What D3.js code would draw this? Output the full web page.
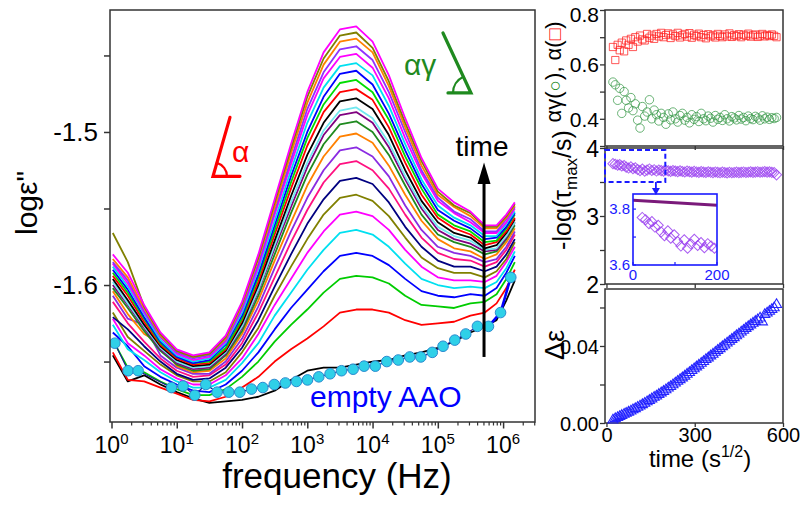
<!DOCTYPE html>
<html>
<head>
<meta charset="utf-8">
<script src="https://cdn.jsdelivr.net/npm/d3@7"></script>
<style>
  body { margin: 0; background: #fff; }
  svg { display: block; }
  text { font-family: "Liberation Sans", Arial, Helvetica, sans-serif; }
</style>
</head>
<body>
<svg id="chart" width="800" height="505"></svg>
<script>
// ---------- dielectric loss spectra (log10 f, log eps'') ----------
const logFreq = [0.02, 0.25, 0.5, 0.75, 1.0, 1.25, 1.5, 1.75, 2.0, 2.25, 2.5, 2.75, 3.0, 3.25,
                 3.5, 3.75, 4.0, 4.25, 4.5, 4.75, 5.0, 5.25, 5.5, 5.72, 5.9, 6.05, 6.18];

// one row per spectrum, earliest (bottom) to latest (top)
const spectra = [
  [-1.646,-1.663,-1.659,-1.665,-1.670,-1.674,-1.677,-1.676,-1.675,-1.673,-1.669,-1.662,-1.656,-1.654,-1.654,-1.652,-1.650,-1.649,-1.646,-1.644,-1.641,-1.637,-1.631,-1.627,-1.623,-1.610,-1.597],
  [-1.644,-1.662,-1.663,-1.667,-1.671,-1.675,-1.676,-1.673,-1.667,-1.660,-1.650,-1.642,-1.635,-1.627,-1.618,-1.616,-1.616,-1.618,-1.623,-1.626,-1.625,-1.624,-1.620,-1.618,-1.612,-1.602,-1.590],
  [-1.636,-1.654,-1.657,-1.663,-1.668,-1.672,-1.672,-1.668,-1.660,-1.650,-1.637,-1.626,-1.616,-1.605,-1.596,-1.594,-1.595,-1.599,-1.607,-1.613,-1.614,-1.615,-1.612,-1.611,-1.606,-1.596,-1.585],
  [-1.631,-1.640,-1.653,-1.660,-1.665,-1.669,-1.670,-1.665,-1.656,-1.644,-1.629,-1.615,-1.603,-1.591,-1.581,-1.579,-1.581,-1.587,-1.596,-1.604,-1.607,-1.608,-1.606,-1.607,-1.602,-1.592,-1.581],
  [-1.626,-1.642,-1.649,-1.657,-1.663,-1.667,-1.667,-1.662,-1.651,-1.638,-1.620,-1.605,-1.590,-1.577,-1.566,-1.564,-1.567,-1.575,-1.586,-1.596,-1.600,-1.602,-1.601,-1.602,-1.598,-1.589,-1.578],
  [-1.622,-1.638,-1.646,-1.655,-1.661,-1.665,-1.665,-1.659,-1.648,-1.632,-1.613,-1.596,-1.579,-1.565,-1.554,-1.552,-1.555,-1.564,-1.577,-1.588,-1.595,-1.597,-1.597,-1.598,-1.594,-1.585,-1.575],
  [-1.618,-1.634,-1.643,-1.652,-1.659,-1.663,-1.663,-1.657,-1.644,-1.628,-1.607,-1.588,-1.570,-1.554,-1.543,-1.541,-1.545,-1.555,-1.569,-1.582,-1.589,-1.592,-1.592,-1.595,-1.591,-1.583,-1.572],
  [-1.621,-1.629,-1.640,-1.650,-1.658,-1.662,-1.661,-1.654,-1.641,-1.623,-1.601,-1.580,-1.560,-1.544,-1.532,-1.530,-1.534,-1.546,-1.562,-1.575,-1.584,-1.588,-1.588,-1.591,-1.588,-1.580,-1.570],
  [-1.611,-1.625,-1.637,-1.648,-1.656,-1.660,-1.659,-1.652,-1.638,-1.618,-1.595,-1.572,-1.551,-1.533,-1.521,-1.519,-1.525,-1.537,-1.554,-1.569,-1.579,-1.583,-1.584,-1.588,-1.585,-1.577,-1.567],
  [-1.607,-1.622,-1.626,-1.646,-1.654,-1.658,-1.658,-1.650,-1.635,-1.614,-1.589,-1.565,-1.543,-1.525,-1.512,-1.510,-1.516,-1.529,-1.548,-1.564,-1.575,-1.579,-1.581,-1.585,-1.583,-1.575,-1.565],
  [-1.604,-1.619,-1.632,-1.638,-1.653,-1.657,-1.656,-1.648,-1.632,-1.610,-1.584,-1.559,-1.535,-1.516,-1.503,-1.501,-1.507,-1.522,-1.541,-1.558,-1.570,-1.576,-1.578,-1.583,-1.580,-1.572,-1.563],
  [-1.602,-1.615,-1.630,-1.643,-1.652,-1.656,-1.655,-1.646,-1.630,-1.607,-1.580,-1.553,-1.528,-1.508,-1.495,-1.493,-1.500,-1.515,-1.535,-1.554,-1.567,-1.572,-1.575,-1.580,-1.578,-1.570,-1.561],
  [-1.600,-1.613,-1.628,-1.642,-1.651,-1.655,-1.654,-1.645,-1.628,-1.604,-1.576,-1.549,-1.523,-1.502,-1.489,-1.487,-1.494,-1.510,-1.531,-1.550,-1.564,-1.570,-1.573,-1.578,-1.577,-1.569,-1.559],
  [-1.598,-1.612,-1.627,-1.641,-1.650,-1.654,-1.653,-1.644,-1.627,-1.603,-1.574,-1.546,-1.520,-1.499,-1.486,-1.484,-1.491,-1.507,-1.529,-1.548,-1.562,-1.568,-1.571,-1.577,-1.576,-1.568,-1.559],
  [-1.596,-1.610,-1.626,-1.640,-1.649,-1.653,-1.652,-1.643,-1.625,-1.600,-1.571,-1.542,-1.515,-1.494,-1.480,-1.478,-1.485,-1.502,-1.525,-1.545,-1.559,-1.566,-1.569,-1.576,-1.574,-1.566,-1.557],
  [-1.594,-1.607,-1.624,-1.639,-1.648,-1.652,-1.651,-1.642,-1.623,-1.598,-1.567,-1.537,-1.509,-1.487,-1.474,-1.472,-1.479,-1.497,-1.520,-1.541,-1.556,-1.563,-1.567,-1.574,-1.572,-1.565,-1.556],
  [-1.592,-1.605,-1.622,-1.638,-1.647,-1.651,-1.650,-1.641,-1.622,-1.595,-1.564,-1.533,-1.504,-1.482,-1.468,-1.466,-1.474,-1.492,-1.516,-1.537,-1.554,-1.561,-1.565,-1.572,-1.571,-1.563,-1.554],
  [-1.590,-1.603,-1.621,-1.637,-1.647,-1.651,-1.649,-1.639,-1.620,-1.593,-1.561,-1.529,-1.500,-1.477,-1.462,-1.460,-1.469,-1.488,-1.512,-1.534,-1.551,-1.558,-1.563,-1.570,-1.569,-1.562,-1.553],
  [-1.588,-1.601,-1.619,-1.636,-1.646,-1.650,-1.648,-1.638,-1.618,-1.590,-1.558,-1.525,-1.494,-1.471,-1.457,-1.455,-1.463,-1.483,-1.508,-1.531,-1.548,-1.556,-1.561,-1.568,-1.568,-1.560,-1.552],
  [-1.586,-1.599,-1.618,-1.634,-1.645,-1.649,-1.647,-1.637,-1.616,-1.588,-1.554,-1.521,-1.489,-1.465,-1.451,-1.449,-1.458,-1.478,-1.504,-1.527,-1.545,-1.553,-1.559,-1.566,-1.566,-1.559,-1.550],
  [-1.585,-1.597,-1.617,-1.634,-1.644,-1.648,-1.646,-1.636,-1.615,-1.586,-1.552,-1.518,-1.485,-1.461,-1.446,-1.444,-1.453,-1.474,-1.500,-1.525,-1.543,-1.552,-1.557,-1.565,-1.565,-1.557,-1.549],
  [-1.583,-1.595,-1.615,-1.633,-1.643,-1.647,-1.645,-1.635,-1.613,-1.583,-1.549,-1.514,-1.481,-1.456,-1.441,-1.439,-1.448,-1.470,-1.497,-1.522,-1.541,-1.549,-1.555,-1.563,-1.563,-1.556,-1.548],
  [-1.566,-1.585,-1.614,-1.632,-1.643,-1.647,-1.645,-1.634,-1.612,-1.582,-1.546,-1.511,-1.477,-1.452,-1.437,-1.435,-1.445,-1.467,-1.494,-1.519,-1.539,-1.548,-1.553,-1.562,-1.562,-1.555,-1.547],
  [-1.580,-1.592,-1.613,-1.631,-1.642,-1.646,-1.644,-1.633,-1.611,-1.580,-1.544,-1.508,-1.474,-1.448,-1.433,-1.431,-1.441,-1.463,-1.491,-1.517,-1.537,-1.546,-1.552,-1.561,-1.561,-1.554,-1.546]
];
const spectrumColors = ["#000000","#ff0000","#00cc00","#0000ff","#00e0f0","#ff00ff","#808000","#000080",
  "#ff1080","#8a2be2","#ff8000","#1f8a1f","#800080","#70e8f0","#000000","#ff0000","#00dd00","#0000ff",
  "#00e0f0","#ff00ff","#9030ff","#ff8000","#808000","#ff00ff"];

// empty AAO reference spectrum
const aaoLogFreq = [0.051,0.254,0.408,0.919,1.097,1.276,1.445,1.618,1.797,1.966,2.145,2.318,2.494,2.664,2.834,
  3.003,3.176,3.349,3.524,3.702,3.870,4.042,4.218,4.394,4.570,4.739,4.915,5.080,5.260,5.428,5.607,5.776,5.961,6.118];
const aaoLogEps = [-1.638,-1.656,-1.656,-1.667,-1.666,-1.672,-1.665,-1.670,-1.670,-1.670,-1.668,-1.667,-1.665,-1.664,-1.663,
  -1.662,-1.660,-1.658,-1.656,-1.655,-1.653,-1.653,-1.650,-1.649,-1.647,-1.647,-1.644,-1.640,-1.636,-1.632,-1.627,-1.627,-1.618,-1.595];

const xMajorTicks = [0, 1, 2, 3, 4, 5, 6];           // exponents
const yMainTicks = [-1.65, -1.6, -1.55, -1.5, -1.45];
const yMainLabels = ["", "-1.6", "", "-1.5", ""];

// ---------- fit parameters vs time (s^1/2) ----------
const timeSqrt = [22, 30, 38, 45, 52, 60, 67, 75, 83, 90,
  98, 106, 114, 122, 130, 138, 146, 154, 162, 170,
  178, 186, 194, 202, 210, 218, 226, 234, 242, 250,
  258, 266, 274, 282, 290, 298, 306, 314, 322, 330,
  338, 346, 354, 362, 370, 378, 386, 394, 402, 410,
  418, 426, 434, 442, 450, 458, 466, 474, 482, 490,
  498, 506, 514, 522, 530, 538, 546, 554, 562, 570,
  578];
const alphaShape = [0.664, 0.616, 0.672, 0.652, 0.680, 0.648, 0.688, 0.672, 0.694, 0.664,
  0.700, 0.684, 0.706, 0.692, 0.688, 0.712, 0.698, 0.706, 0.694, 0.712,
  0.703, 0.716, 0.700, 0.708, 0.714, 0.697, 0.710, 0.704, 0.716, 0.699,
  0.707, 0.712, 0.702, 0.715, 0.698, 0.709, 0.704, 0.713, 0.700, 0.708,
  0.696, 0.711, 0.703, 0.707, 0.699, 0.712, 0.705, 0.700, 0.710, 0.703,
  0.714, 0.701, 0.708, 0.704, 0.711, 0.700, 0.709, 0.705, 0.713, 0.702,
  0.707, 0.710, 0.701, 0.706, 0.712, 0.703, 0.708, 0.704, 0.710, 0.705,
  0.700];
const alphaGamma = [0.535, 0.525, 0.468, 0.512, 0.420, 0.500, 0.468, 0.440, 0.478, 0.430,
  0.455, 0.395, 0.366, 0.445, 0.410, 0.425, 0.470, 0.400, 0.432, 0.415,
  0.392, 0.420, 0.405, 0.380, 0.418, 0.396, 0.425, 0.400, 0.388, 0.412,
  0.420, 0.395, 0.405, 0.385, 0.415, 0.398, 0.408, 0.390, 0.420, 0.400,
  0.393, 0.410, 0.402, 0.388, 0.412, 0.398, 0.405, 0.394, 0.415, 0.400,
  0.392, 0.408, 0.403, 0.396, 0.412, 0.399, 0.405, 0.393, 0.410, 0.401,
  0.397, 0.409, 0.403, 0.395, 0.411, 0.400, 0.406, 0.398, 0.404, 0.401,
  0.405];
const negLogTau = [3.770, 3.762, 3.748, 3.755, 3.736, 3.742, 3.718, 3.705, 3.722, 3.696,
  3.708, 3.684, 3.668, 3.690, 3.660, 3.675, 3.692, 3.670, 3.680, 3.662,
  3.676, 3.668, 3.660, 3.672, 3.664, 3.656, 3.668, 3.660, 3.652, 3.664,
  3.655, 3.648, 3.660, 3.652, 3.645, 3.656, 3.648, 3.642, 3.652, 3.645,
  3.640, 3.650, 3.643, 3.638, 3.648, 3.641, 3.636, 3.645, 3.639, 3.634,
  3.643, 3.637, 3.640, 3.645, 3.638, 3.642, 3.647, 3.640, 3.644, 3.649,
  3.642, 3.646, 3.651, 3.644, 3.648, 3.652, 3.645, 3.649, 3.642, 3.638,
  3.605];
const deltaEps = [0.0015, 0.0022, 0.0028, 0.0033, 0.0039, 0.0045, 0.0050, 0.0056, 0.0062, 0.0068,
  0.0074, 0.0081, 0.0088, 0.0095, 0.0102, 0.0110, 0.0117, 0.0125, 0.0133, 0.0140,
  0.0148, 0.0156, 0.0164, 0.0172, 0.0181, 0.0189, 0.0198, 0.0207, 0.0216, 0.0225,
  0.0234, 0.0243, 0.0253, 0.0262, 0.0272, 0.0281, 0.0291, 0.0300, 0.0310, 0.0319,
  0.0329, 0.0338, 0.0348, 0.0357, 0.0367, 0.0377, 0.0386, 0.0396, 0.0405, 0.0415,
  0.0424, 0.0434, 0.0443, 0.0453, 0.0462, 0.0472, 0.0481, 0.0491, 0.0500, 0.0509,
  0.0518, 0.0527, 0.0536, 0.0545, 0.0525, 0.0563, 0.0571, 0.0580, 0.0589, 0.0598,
  0.0615];
// reference line shown in the zoomed inset (time, -log tau)
const insetRefLine = [[0, 3.832], [200, 3.814]];

// ---------- drawing ----------
const svg = d3.select("#chart");
const AX = "#333333";

// main panel scales
const x = d3.scaleLog().domain([Math.pow(10, -0.023), Math.pow(10, 6.489)]).range([110, 535]);
const y = d3.scaleLinear().domain([-1.6895, -1.4203]).range([422, 10]);
const fx = lf => x(Math.pow(10, lf));

svg.append("clipPath").attr("id", "mainClip")
  .append("rect").attr("x", 110).attr("y", 10).attr("width", 425).attr("height", 412);

const plot = svg.append("g").attr("clip-path", "url(#mainClip)");
const line = d3.line().x(d => fx(d[0])).y(d => y(d[1]));

spectra.forEach((vals, i) => {
  plot.append("path")
    .datum(logFreq.map((f, j) => [f, vals[j]]))
    .attr("d", line)
    .attr("fill", "none")
    .attr("stroke", spectrumColors[i])
    .attr("stroke-width", 1.8)
    .attr("stroke-linejoin", "round");
});

// empty AAO
const aao = aaoLogFreq.map((f, j) => [f, aaoLogEps[j]]);
plot.append("path").datum(aao).attr("d", line)
  .attr("fill", "none").attr("stroke", "#1a1a90").attr("stroke-width", 1.2);
plot.append("path").datum(aao.slice(-3)).attr("d", line)
  .attr("fill", "none").attr("stroke", "#0000ff").attr("stroke-width", 2.6);
plot.selectAll("circle.aao").data(aao).enter().append("circle")
  .attr("cx", d => fx(d[0])).attr("cy", d => y(d[1])).attr("r", 5.3)
  .attr("fill", "#2fd0e8").attr("stroke", "#2a8ad0").attr("stroke-width", 1);

// time arrow
const arrX = fx(5.708);
svg.append("line").attr("x1", arrX).attr("x2", arrX).attr("y1", y(-1.647)).attr("y2", y(-1.534))
  .attr("stroke", "#000").attr("stroke-width", 3);
svg.append("path")
  .attr("d", `M${arrX - 6.5},${y(-1.534)} L${arrX + 6.5},${y(-1.534)} L${arrX},${y(-1.520)} Z`)
  .attr("fill", "#000");
svg.append("text").attr("x", arrX - 2).attr("y", y(-1.516)).attr("text-anchor", "middle")
  .attr("font-size", 28).attr("fill", "#000").text("time");

// alpha slope mark (red)
{
  const vx = fx(1.555), vy = y(-1.529);
  const g = svg.append("g").attr("stroke", "#ff0000").attr("stroke-width", 3.2).attr("fill", "none")
    .attr("stroke-linecap", "round");
  g.append("path").attr("d", `M${vx + 17},${vy - 59} L${vx},${vy} L${vx + 27},${vy}`);
  const r = 14, a = Math.atan2(-59, 17);
  g.append("path").attr("d", `M${vx + r},${vy} A${r},${r} 0 0 0 ${vx + r * Math.cos(a)},${vy + r * Math.sin(a)}`)
    .attr("stroke-width", 2.2);
  svg.append("text").attr("x", vx + 19).attr("y", vy - 14).attr("font-size", 30)
    .attr("fill", "#ff0000").text("α");
}
// alpha*gamma slope mark (green)
{
  const vx = fx(5.508), vy = y(-1.4745);
  const g = svg.append("g").attr("stroke", "#1f8a1f").attr("stroke-width", 3.2).attr("fill", "none")
    .attr("stroke-linecap", "round");
  g.append("path").attr("d", `M${vx - 28},${vy - 60} L${vx},${vy} L${vx - 23},${vy}`);
  const r = 18, a = Math.atan2(-60, -28);
  g.append("path").attr("d", `M${vx - r},${vy} A${r},${r} 0 0 1 ${vx + r * Math.cos(a)},${vy + r * Math.sin(a)}`)
    .attr("stroke-width", 2.2);
  svg.append("text").attr("x", vx - 67).attr("y", vy - 18).attr("font-size", 30)
    .attr("fill", "#1f8a1f").text("αγ");
}

svg.append("text").attr("x", fx(3.041)).attr("y", y(-1.680)).attr("font-size", 30)
  .attr("fill", "#0000ff").text("empty AAO");

// main frame and axes
svg.append("rect").attr("x", 110).attr("y", 10).attr("width", 425).attr("height", 412)
  .attr("fill", "none").attr("stroke", AX).attr("stroke-width", 1.5);

const yAxis = svg.append("g").attr("transform", "translate(110,0)")
  .call(d3.axisLeft(y).tickValues(yMainTicks).tickSize(6).tickSizeOuter(0)
    .tickFormat((d, i) => yMainLabels[i]));
yAxis.select(".domain").remove();
yAxis.selectAll(".tick line").attr("stroke", AX).attr("stroke-width", 1.5);
yAxis.selectAll(".tick text").attr("font-size", 26).attr("fill", "#000")
  .attr("font-family", "Liberation Sans, Arial, sans-serif").attr("x", -12);

const minorF = [];
for (let e = 0; e <= 6; e++) for (let m = 2; m <= 9; m++) {
  const v = m * Math.pow(10, e);
  if (v <= x.domain()[1]) minorF.push(v);
}
const xMinor = svg.append("g").attr("transform", "translate(0,422)")
  .call(d3.axisBottom(x).tickValues(minorF).tickSize(3.5).tickSizeOuter(0).tickFormat(""));
xMinor.select(".domain").remove();
xMinor.selectAll(".tick line").attr("stroke", AX).attr("stroke-width", 1.2);
const xMajor = svg.append("g").attr("transform", "translate(0,422)")
  .call(d3.axisBottom(x).tickValues(xMajorTicks.map(e => Math.pow(10, e))).tickSize(6.5)
    .tickSizeOuter(0).tickFormat(""));
xMajor.select(".domain").remove();
xMajor.selectAll(".tick line").attr("stroke", AX).attr("stroke-width", 1.5);
xMajorTicks.forEach(e => {
  const t = svg.append("text").attr("x", fx(e)).attr("y", 453).attr("text-anchor", "middle")
    .attr("font-size", 23).attr("fill", "#000");
  t.append("tspan").text("10");
  t.append("tspan").attr("dy", -9).attr("font-size", 15).text(e);
});

svg.append("text").attr("x", 337).attr("y", 488).attr("text-anchor", "middle")
  .attr("font-size", 35).attr("fill", "#000").text("frequency (Hz)");
svg.append("text").attr("transform", "translate(37,203) rotate(-90)").attr("text-anchor", "middle")
  .attr("font-size", 30).attr("fill", "#000").text("logε\"");

// ---------- right-hand panels ----------
const px = d3.scaleLinear().domain([-5, 600]).range([605, 783]);
const p1y = d3.scaleLinear().domain([0.3, 0.8]).range([146, 10]);
const p2y = d3.scaleLinear().domain([2, 4]).range([284, 148]);
const p3y = d3.scaleLinear().domain([0, 0.0696]).range([423, 289]);

function panelFrame(ys, ticks, labels, fmt, fontSize, showX) {
  const [y0, y1] = ys.range();
  svg.append("rect").attr("x", 605).attr("y", y1).attr("width", 178).attr("height", y0 - y1)
    .attr("fill", "none").attr("stroke", AX).attr("stroke-width", 1.5);
  const ga = svg.append("g").attr("transform", "translate(605,0)")
    .call(d3.axisLeft(ys).tickValues(ticks).tickSize(5).tickSizeOuter(0)
      .tickFormat(d => labels.some(l => Math.abs(l - d) < 1e-9) ? fmt(d) : ""));
  ga.select(".domain").remove();
  ga.selectAll(".tick line").attr("stroke", AX).attr("stroke-width", 1.3);
  ga.selectAll(".tick text").attr("font-size", fontSize).attr("dy", "0.36em")
    .attr("fill", "#000").attr("x", -6).attr("font-family", "Liberation Sans, Arial, sans-serif")
    // keep the topmost label inside the canvas
    .attr("y", d => (ys(d) < 14 ? 14 - ys(d) : 0));
  const gb = svg.append("g").attr("transform", `translate(0,${y0})`)
    .call(d3.axisBottom(px).tickValues([0, 300, 600]).tickSize(4).tickSizeOuter(0)
      .tickFormat(showX ? d3.format("d") : ""));
  gb.select(".domain").remove();
  gb.selectAll(".tick line").attr("stroke", AX).attr("stroke-width", 1.3);
  gb.selectAll(".tick text").attr("font-size", 20).attr("fill", "#000").attr("y", 5)
    .attr("font-family", "Liberation Sans, Arial, sans-serif");
}

panelFrame(p1y, [0.3, 0.4, 0.5, 0.6, 0.7, 0.8], [0.4, 0.6, 0.8], d3.format(".1f"), 21, false);
panelFrame(p2y, [2, 2.5, 3, 3.5, 4], [2, 3, 4], d3.format("d"), 23, false);
panelFrame(p3y, [0, 0.02, 0.04, 0.06], [0, 0.04], d3.format(".2f"), 20, true);

const sq = d3.symbol(d3.symbolSquare, 52)();
const circ = d3.symbol(d3.symbolCircle, 56)();
const tri = d3.symbol(d3.symbolTriangle, 44)();

// panel 1: shape parameters
svg.append("g").selectAll("path").data(timeSqrt).enter().append("path")
  .attr("d", circ).attr("transform", (t, i) => `translate(${px(t)},${p1y(alphaGamma[i])})`)
  .attr("fill", "none").attr("stroke", "#3a9a4a").attr("stroke-opacity", 0.75).attr("stroke-width", 1);
svg.append("g").selectAll("path").data(timeSqrt).enter().append("path")
  .attr("d", sq).attr("transform", (t, i) => `translate(${px(t)},${p1y(alphaShape[i])})`)
  .attr("fill", "none").attr("stroke", "#ff2020").attr("stroke-opacity", 0.75).attr("stroke-width", 1);

// panel 2: relaxation time
svg.append("g").selectAll("path").data(timeSqrt).enter().append("path")
  .attr("d", sq).attr("transform", (t, i) => `translate(${px(t)},${p2y(negLogTau[i])}) rotate(45)`)
  .attr("fill", "none").attr("stroke", "#9a40f0").attr("stroke-opacity", 0.8).attr("stroke-width", 1);

// highlight box and arrow to inset
svg.append("rect").attr("x", px(-5)).attr("y", p2y(3.97)).attr("width", px(200) - px(-5))
  .attr("height", p2y(3.50) - p2y(3.97)).attr("fill", "none").attr("stroke", "#1a1aff")
  .attr("stroke-width", 2).attr("stroke-dasharray", "5,3");

// inset
const ix = d3.scaleLinear().domain([0, 200]).range([633, 717]);
const iy = d3.scaleLinear().domain([3.6, 3.854]).range([265, 194]);
svg.append("rect").attr("x", 633).attr("y", 194).attr("width", 84).attr("height", 71)
  .attr("fill", "#fff").attr("stroke", "none");
svg.append("clipPath").attr("id", "insetClip").append("rect")
  .attr("x", 633).attr("y", 194).attr("width", 84).attr("height", 71);
const ins = svg.append("g").attr("clip-path", "url(#insetClip)");
ins.append("path").datum(insetRefLine)
  .attr("d", d3.line().x(d => ix(d[0])).y(d => iy(d[1])))
  .attr("stroke", "#7a1a7a").attr("stroke-width", 3).attr("fill", "none");
ins.selectAll("path.pt").data(timeSqrt.filter(t => t <= 200)).enter().append("path")
  .attr("d", sq).attr("transform", (t, i) => `translate(${ix(t)},${iy(negLogTau[i])}) rotate(45)`)
  .attr("fill", "none").attr("stroke", "#9a40f0").attr("stroke-opacity", 0.85).attr("stroke-width", 1);
svg.append("rect").attr("x", 633).attr("y", 194).attr("width", 84).attr("height", 71)
  .attr("fill", "none").attr("stroke", "#1a1aff").attr("stroke-width", 1.6);
[3.6, 3.7, 3.8].forEach(v => svg.append("line").attr("x1", 633).attr("x2", 636)
  .attr("y1", iy(v)).attr("y2", iy(v)).attr("stroke", "#1a1aff").attr("stroke-width", 1.2));
[0, 100, 200].forEach(v => svg.append("line").attr("x1", ix(v)).attr("x2", ix(v))
  .attr("y1", 265).attr("y2", 262).attr("stroke", "#1a1aff").attr("stroke-width", 1.2));
[[3.8, "3.8"], [3.6, "3.6"]].forEach(([v, s]) => svg.append("text").attr("x", 630).attr("y", iy(v))
  .attr("dy", "0.35em").attr("text-anchor", "end").attr("font-size", 15).attr("fill", "#1a1aff").text(s));
[[0, "0"], [200, "200"]].forEach(([v, s]) => svg.append("text").attr("x", ix(v)).attr("y", 280)
  .attr("text-anchor", "middle").attr("font-size", 15).attr("fill", "#1a1aff").text(s));

const ax0 = px(168);
svg.append("line").attr("x1", ax0).attr("x2", ax0).attr("y1", p2y(3.50)).attr("y2", 189)
  .attr("stroke", "#1a1aff").attr("stroke-width", 1.8);
svg.append("path").attr("d", `M${ax0 - 4},${188} L${ax0 + 4},${188} L${ax0},${195} Z`).attr("fill", "#1a1aff");

// panel 3: relaxation strength
svg.append("g").selectAll("path").data(timeSqrt).enter().append("path")
  .attr("d", tri).attr("transform", (t, i) => `translate(${px(t)},${p3y(deltaEps[i])})`)
  .attr("fill", "none").attr("stroke", "#1c1cff").attr("stroke-opacity", 0.95).attr("stroke-width", 1.1);

// panel titles
{
  const t = svg.append("text").attr("transform", "translate(561,72) rotate(-90)")
    .attr("text-anchor", "middle").attr("font-size", 22).attr("fill", "#000");
  t.append("tspan").text("αγ(");
  t.append("tspan").attr("fill", "#1f8a1f").attr("font-size", 19).text("○");
  t.append("tspan").text("), α(");
  t.append("tspan").attr("fill", "#ff0000").attr("font-size", 19).text("□");
  t.append("tspan").text(")");
}
{
  const t = svg.append("text").attr("transform", "translate(571,190) rotate(-90)")
    .attr("text-anchor", "middle").attr("font-size", 25).attr("fill", "#000");
  t.append("tspan").text("-log(τ");
  t.append("tspan").attr("font-size", 17).attr("dy", 6).text("max");
  t.append("tspan").attr("dy", -6).text("/s)");
}
svg.append("text").attr("transform", "translate(564,345) rotate(-90)")
  .attr("text-anchor", "middle").attr("font-size", 27).attr("fill", "#000").text("Δε");
{
  const t = svg.append("text").attr("x", 700).attr("y", 467).attr("text-anchor", "middle")
    .attr("font-size", 24).attr("fill", "#000");
  t.append("tspan").text("time (s");
  t.append("tspan").attr("font-size", 16).attr("dy", -10).text("1/2");
  t.append("tspan").attr("dy", 10).text(")");
}
</script>
</body>
</html>
